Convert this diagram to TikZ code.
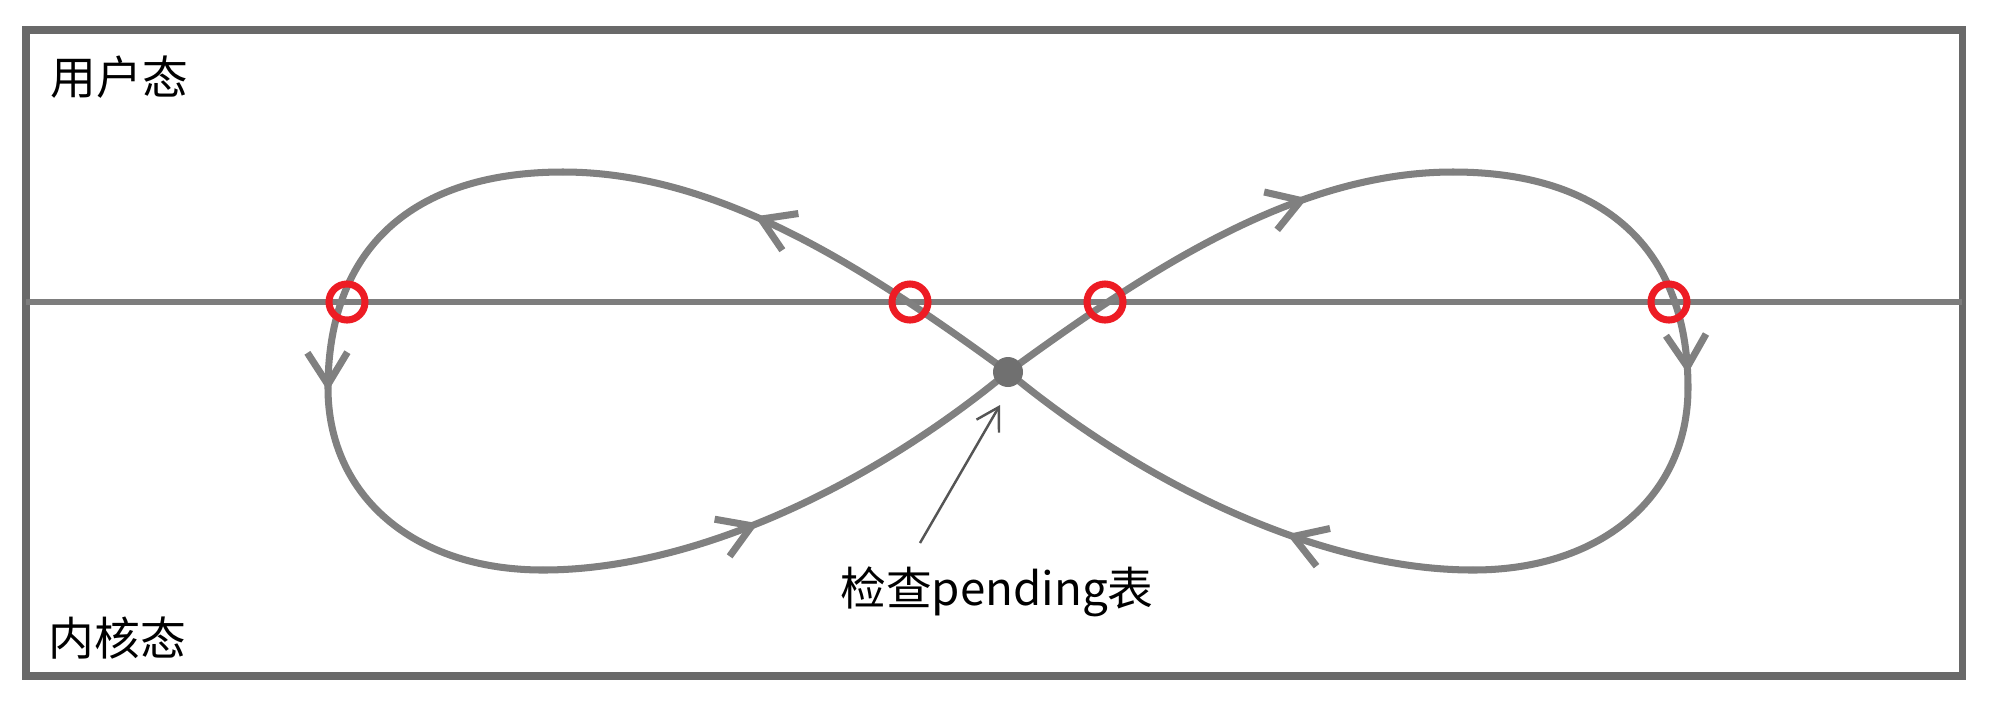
\documentclass[tikz,border=0pt]{standalone}
\usepackage{fontspec}
\newfontfamily\cjk{Noto Sans CJK SC}
\usetikzlibrary{arrows.meta,decorations.markings}
\definecolor{curvegray}{RGB}{128,128,128}
\definecolor{framegray}{RGB}{105,105,105}
\definecolor{linegray}{RGB}{125,125,125}
\definecolor{ringred}{RGB}{237,28,36}
\definecolor{dotgray}{RGB}{112,112,112}
\definecolor{ptrgray}{RGB}{85,85,85}
\begin{document}
\begin{tikzpicture}[x=0.01cm,y=-0.01cm,
  curve/.style={color=curvegray,line width=2pt},
  arrowat/.style={postaction={decorate},decoration={markings,
     mark=at position #1 with {\arrow{Straight Barb[length=0.32cm,width=0.4cm]}}}},
  ring/.style={circle,draw=ringred,line width=2pt,minimum size=0.36cm,inner sep=0pt},
  lbl/.style={inner sep=0pt,font=\cjk\fontsize{13}{15}\selectfont},
  ptr/.style={draw=ptrgray,line width=0.7pt,-{Straight Barb[length=0.22cm,width=0.26cm]}}
  ]
\useasboundingbox (0,0) rectangle (1993,705);
% frame and divider
\draw[framegray,line width=2pt] (26,30) rectangle (1962,676);
\draw[linegray,line width=1.7pt] (26,302) -- (1962,302);
% key points
\coordinate (C) at (1008,372);
\coordinate (LT) at (563,172);
\coordinate (LL) at (328,388);
\coordinate (LB) at (543,570);
\coordinate (RT) at (1453,172);
\coordinate (RR) at (1688,388);
\coordinate (RB) at (1473,570);
% left loop
\draw[curve,arrowat=0.6] (C) .. controls (868,270) and (720,172) .. (LT);
\draw[curve] (LT) .. controls (413,172) and (328,248) .. (LL);
\draw[curve,arrowat=0.01] (LL) .. controls (328,495) and (413,570) .. (LB);
\draw[curve,arrowat=0.43] (LB) .. controls (693,570) and (869,487) .. (C);
% right loop
\draw[curve,arrowat=0.7] (C) .. controls (1148,270) and (1296,172) .. (RT);
\draw[curve,arrowat=0.96] (RT) .. controls (1603,172) and (1688,248) .. (RR);
\draw[curve] (RR) .. controls (1688,495) and (1603,570) .. (RB);
\draw[curve,arrowat=0.37] (RB) .. controls (1323,570) and (1147,487) .. (C);
% red rings
\node[ring] (r1) at (347,302) {};
\node[ring] (r2) at (910,302) {};
\node[ring] (r3) at (1105,302) {};
\node[ring] (r4) at (1669,302) {};
% center dot
\node[circle,fill=dotgray,minimum size=0.3cm,inner sep=0pt] (dot) at (C) {};
% labels
\node[lbl,anchor=west] (user) at (50,77) {用户态};
\node[lbl,anchor=west] (kernel) at (48,638) {内核态};
\node[lbl] (pend) at (997,592) {检查pending表};
% pointer
\coordinate (ps) at (920,543);
\coordinate (pe) at (1000,405);
\draw[ptr] (ps) -- (pe);
\end{tikzpicture}
\end{document}
